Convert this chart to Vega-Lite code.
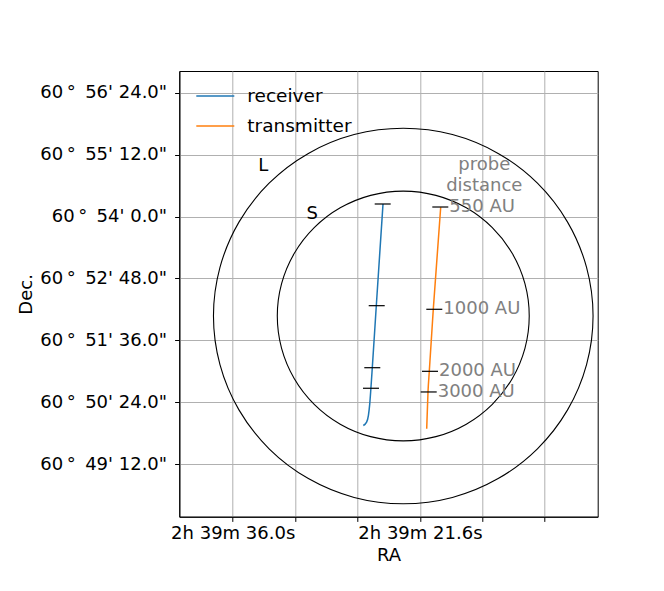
{
  "$schema": "https://vega.github.io/schema/vega-lite/v6.json",
  "width": 418.4,
  "height": 445.7,
  "autosize": {"type": "none"},
  "padding": {"left": 179.3, "top": 71, "right": 66.3, "bottom": 74.3},
  "background": "white",
  "config": {
    "font": "DejaVu Sans",
    "view": {"stroke": "black", "strokeWidth": 1},
    "axis": {
      "labelFont": "DejaVu Sans", "titleFont": "DejaVu Sans",
      "labelFontSize": 18, "titleFontSize": 18,
      "labelColor": "black", "titleColor": "black",
      "titleFontWeight": "normal",
      "domainColor": "black", "tickColor": "black",
      "tickSize": 4.7, "tickWidth": 1,
      "gridColor": "#b0b0b0", "gridWidth": 1, "gridOpacity": 1
    },
    "legend": {
      "labelFont": "DejaVu Sans", "labelFontSize": 18.5, "labelColor": "black"
    }
  },
  "datasets": {
    "rings": [
      {"ring": "L", "ord": 0, "ra": 37.48, "dec": 3124.4},
      {"ring": "L", "ord": 1, "ra": 36.98, "dec": 3180.9},
      {"ring": "L", "ord": 2, "ra": 35.52, "dec": 3233.55},
      {"ring": "L", "ord": 3, "ra": 33.20, "dec": 3278.8},
      {"ring": "L", "ord": 4, "ra": 30.18, "dec": 3313.4},
      {"ring": "L", "ord": 5, "ra": 26.66, "dec": 3335.3},
      {"ring": "L", "ord": 6, "ra": 22.88, "dec": 3342.7},
      {"ring": "L", "ord": 7, "ra": 19.10, "dec": 3335.3},
      {"ring": "L", "ord": 8, "ra": 15.58, "dec": 3313.4},
      {"ring": "L", "ord": 9, "ra": 12.56, "dec": 3278.8},
      {"ring": "L", "ord": 10, "ra": 10.24, "dec": 3233.55},
      {"ring": "L", "ord": 11, "ra": 8.78, "dec": 3180.9},
      {"ring": "L", "ord": 12, "ra": 8.28, "dec": 3124.4},
      {"ring": "L", "ord": 13, "ra": 8.78, "dec": 3067.9},
      {"ring": "L", "ord": 14, "ra": 10.24, "dec": 3015.25},
      {"ring": "L", "ord": 15, "ra": 12.56, "dec": 2970.0},
      {"ring": "L", "ord": 16, "ra": 15.58, "dec": 2935.4},
      {"ring": "L", "ord": 17, "ra": 19.10, "dec": 2913.5},
      {"ring": "L", "ord": 18, "ra": 22.88, "dec": 2906.1},
      {"ring": "L", "ord": 19, "ra": 26.66, "dec": 2913.5},
      {"ring": "L", "ord": 20, "ra": 30.18, "dec": 2935.4},
      {"ring": "L", "ord": 21, "ra": 33.20, "dec": 2970.0},
      {"ring": "L", "ord": 22, "ra": 35.52, "dec": 3015.25},
      {"ring": "L", "ord": 23, "ra": 36.98, "dec": 3067.9},
      {"ring": "S", "ord": 0, "ra": 32.57, "dec": 3124.4},
      {"ring": "S", "ord": 1, "ra": 32.24, "dec": 3161.98},
      {"ring": "S", "ord": 2, "ra": 31.27, "dec": 3197.0},
      {"ring": "S", "ord": 3, "ra": 29.73, "dec": 3227.07},
      {"ring": "S", "ord": 4, "ra": 27.73, "dec": 3250.14},
      {"ring": "S", "ord": 5, "ra": 25.39, "dec": 3264.65},
      {"ring": "S", "ord": 6, "ra": 22.88, "dec": 3269.6},
      {"ring": "S", "ord": 7, "ra": 20.37, "dec": 3264.65},
      {"ring": "S", "ord": 8, "ra": 18.03, "dec": 3250.14},
      {"ring": "S", "ord": 9, "ra": 16.03, "dec": 3227.07},
      {"ring": "S", "ord": 10, "ra": 14.49, "dec": 3197.0},
      {"ring": "S", "ord": 11, "ra": 13.52, "dec": 3161.98},
      {"ring": "S", "ord": 12, "ra": 13.19, "dec": 3124.4},
      {"ring": "S", "ord": 13, "ra": 13.52, "dec": 3086.82},
      {"ring": "S", "ord": 14, "ra": 14.49, "dec": 3051.8},
      {"ring": "S", "ord": 15, "ra": 16.03, "dec": 3021.73},
      {"ring": "S", "ord": 16, "ra": 18.03, "dec": 2998.66},
      {"ring": "S", "ord": 17, "ra": 20.37, "dec": 2984.15},
      {"ring": "S", "ord": 18, "ra": 22.88, "dec": 2979.2},
      {"ring": "S", "ord": 19, "ra": 25.39, "dec": 2984.15},
      {"ring": "S", "ord": 20, "ra": 27.73, "dec": 2998.66},
      {"ring": "S", "ord": 21, "ra": 29.73, "dec": 3021.73},
      {"ring": "S", "ord": 22, "ra": 31.27, "dec": 3051.8},
      {"ring": "S", "ord": 23, "ra": 32.24, "dec": 3086.82}
    ],
    "tracks": [
      {"track": "receiver", "ord": 0, "ra": 24.438, "dec": 3254.6},
      {"track": "receiver", "ord": 1, "ra": 24.954, "dec": 3136.4},
      {"track": "receiver", "ord": 2, "ra": 25.262, "dec": 3064.3},
      {"track": "receiver", "ord": 3, "ra": 25.369, "dec": 3040.4},
      {"track": "receiver", "ord": 4, "ra": 25.46, "dec": 3022.0},
      {"track": "receiver", "ord": 5, "ra": 25.56, "dec": 3009.0},
      {"track": "receiver", "ord": 6, "ra": 25.70, "dec": 3001.0},
      {"track": "receiver", "ord": 7, "ra": 25.954, "dec": 2997.1},
      {"track": "transmitter", "ord": 0, "ra": 20.0, "dec": 3250.8},
      {"track": "transmitter", "ord": 1, "ra": 20.569, "dec": 3132.6},
      {"track": "transmitter", "ord": 2, "ra": 20.877, "dec": 3060.1},
      {"track": "transmitter", "ord": 3, "ra": 20.977, "dec": 3036.1},
      {"track": "transmitter", "ord": 4, "ra": 21.077, "dec": 2993.4}
    ],
    "marks": [
      {"track": "receiver", "dist": "550 AU", "ra": 24.462, "dec": 3254.6},
      {"track": "receiver", "dist": "1000 AU", "ra": 24.923, "dec": 3136.4},
      {"track": "receiver", "dist": "2000 AU", "ra": 25.262, "dec": 3064.3},
      {"track": "receiver", "dist": "3000 AU", "ra": 25.362, "dec": 3040.4},
      {"track": "transmitter", "dist": "550 AU", "ra": 20.031, "dec": 3251.1},
      {"track": "transmitter", "dist": "1000 AU", "ra": 20.492, "dec": 3132.2},
      {"track": "transmitter", "dist": "2000 AU", "ra": 20.823, "dec": 3060.1},
      {"track": "transmitter", "dist": "3000 AU", "ra": 20.923, "dec": 3036.1}
    ],
    "notes": [
      {"text": "probe", "ra": 16.646, "dec": 3299.6, "kind": "gray"},
      {"text": "distance", "ra": 16.646, "dec": 3275.5, "kind": "gray"},
      {"text": "L", "ra": 33.646, "dec": 3298.8, "kind": "black"},
      {"text": "S", "ra": 29.877, "dec": 3243.0, "kind": "black"}
    ]
  },
  "encoding": {
    "x": {
      "field": "ra", "type": "quantitative",
      "scale": {"domain": [7.923, 40.108], "reverse": true, "nice": false, "zero": false},
      "axis": {
        "title": "RA",
        "values": [12, 16.8, 21.6, 26.4, 31.2, 36],
        "labelExpr": "abs(datum.value - 36) < 0.01 ? '2h 39m 36.0s' : (abs(datum.value - 21.6) < 0.01 ? '2h 39m 21.6s' : '')",
        "labelPadding": 2.7,
        "labelFlush": false,
        "labelOverlap": false,
        "titleY": 44,
        "titleBaseline": "alphabetic"
      }
    },
    "y": {
      "field": "dec", "type": "quantitative",
      "scale": {"domain": [2891.1, 3409.2], "nice": false, "zero": false},
      "axis": {
        "title": "Dec.",
        "values": [2952, 3024, 3096, 3168, 3240, 3312, 3384],
        "labelExpr": "'60\u2009° \u2009' + floor(datum.value / 60) + \"' \" + format(datum.value % 60, '.1f') + '\"'",
        "labelPadding": 8,
        "labelOverlap": false,
        "labelFlush": false,
        "titleAngle": 270,
        "titleX": -147.6,
        "titleY": 222.85,
        "titleAlign": "center",
        "titleBaseline": "alphabetic"
      }
    }
  },
  "layer": [
    {
      "data": {"name": "rings"},
      "mark": {"type": "line", "interpolate": "cardinal-closed", "color": "black", "strokeWidth": 1.1},
      "encoding": {
        "detail": {"field": "ring"},
        "order": {"field": "ord", "type": "quantitative"}
      }
    },
    {
      "data": {"name": "tracks"},
      "mark": {"type": "line", "interpolate": "monotone", "strokeWidth": 1.5},
      "encoding": {
        "color": {
          "field": "track", "type": "nominal",
          "scale": {"domain": ["receiver", "transmitter"], "range": ["#1f77b4", "#ff7f0e"]},
          "legend": {
            "title": null,
            "orient": "none",
            "legendX": 16,
            "legendY": 5,
            "symbolType": "stroke",
            "symbolSize": 1444,
            "symbolStrokeWidth": 1.5,
            "labelOffset": 12,
            "rowPadding": -14,
            "padding": 0
          }
        },
        "order": {"field": "ord", "type": "quantitative"}
      }
    },
    {
      "data": {"name": "marks"},
      "mark": {"type": "point", "shape": "stroke", "size": 256, "filled": false, "color": "black", "strokeWidth": 1.2, "opacity": 1}
    },
    {
      "data": {"name": "marks"},
      "transform": [{"filter": "datum.track == 'transmitter'"}],
      "mark": {"type": "text", "align": "left", "baseline": "middle", "dx": 9, "fontSize": 18, "color": "gray"},
      "encoding": {"text": {"field": "dist"}}
    },
    {
      "data": {"name": "notes"},
      "mark": {"type": "text", "align": "center", "baseline": "middle", "fontSize": 18},
      "encoding": {
        "text": {"field": "text"},
        "color": {
          "field": "kind", "type": "nominal",
          "scale": {"domain": ["gray", "black"], "range": ["gray", "black"]},
          "legend": null
        }
      }
    }
  ],
  "resolve": {"scale": {"color": "independent"}}
}
